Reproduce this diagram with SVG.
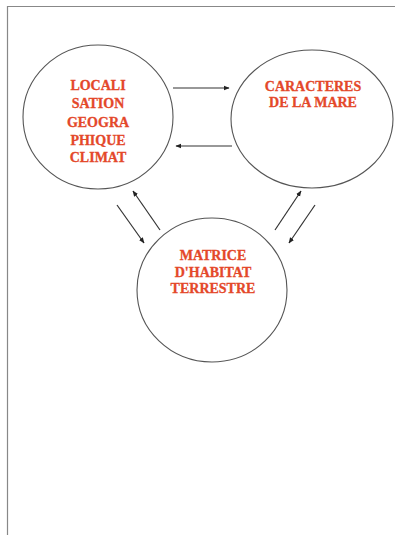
<svg xmlns="http://www.w3.org/2000/svg" width="395" height="535" viewBox="0 0 395 535">
<style>
.node{fill:none;stroke:#555;stroke-width:1.1}
.lbl{font-family:"Liberation Serif","Times New Roman",serif;font-weight:bold;font-size:14px;fill:#e4482a;stroke:#e4482a;stroke-width:0.3;text-anchor:middle}
.edge{stroke:#333;stroke-width:1.2;fill:none;marker-end:url(#ah)}
</style>
<defs>
<marker id="ah" viewBox="0 0 10 10" refX="9" refY="5" markerWidth="6" markerHeight="6" orient="auto" markerUnits="userSpaceOnUse">
<path d="M0,1 L10,5 L0,9 z" fill="#222"/>
</marker>
</defs>
<rect width="395" height="535" fill="#fff"/>
<path d="M7.5,535 V6.5 H395" fill="none" stroke="#888" stroke-width="1.2"/>
<g id="localisation">
<ellipse class="node" cx="98" cy="117" rx="75" ry="72"/>
<text class="lbl" x="98" y="90">LOCALI</text>
<text class="lbl" x="98" y="108">SATION</text>
<text class="lbl" x="98" y="127">GEOGRA</text>
<text class="lbl" x="98" y="145">PHIQUE</text>
<text class="lbl" x="98" y="162">CLIMAT</text>
</g>
<g id="caracteres">
<ellipse class="node" cx="312" cy="119" rx="81" ry="69"/>
<text class="lbl" x="313" y="91">CARACTERES</text>
<text class="lbl" x="313" y="107">DE LA MARE</text>
</g>
<g id="matrice">
<ellipse class="node" cx="212" cy="290" rx="75" ry="72"/>
<text class="lbl" x="213" y="260">MATRICE</text>
<text class="lbl" x="213" y="277">D'HABITAT</text>
<text class="lbl" x="213" y="293">TERRESTRE</text>
</g>
<g id="connectors">
<line class="edge" x1="173" y1="88" x2="229" y2="88"/>
<line class="edge" x1="232" y1="146" x2="176" y2="146"/>
<line class="edge" x1="117" y1="205" x2="144" y2="243"/>
<line class="edge" x1="160" y1="230" x2="133" y2="191"/>
<line class="edge" x1="275" y1="230" x2="301" y2="191"/>
<line class="edge" x1="315" y1="205" x2="289" y2="243"/>
</g>
</svg>
